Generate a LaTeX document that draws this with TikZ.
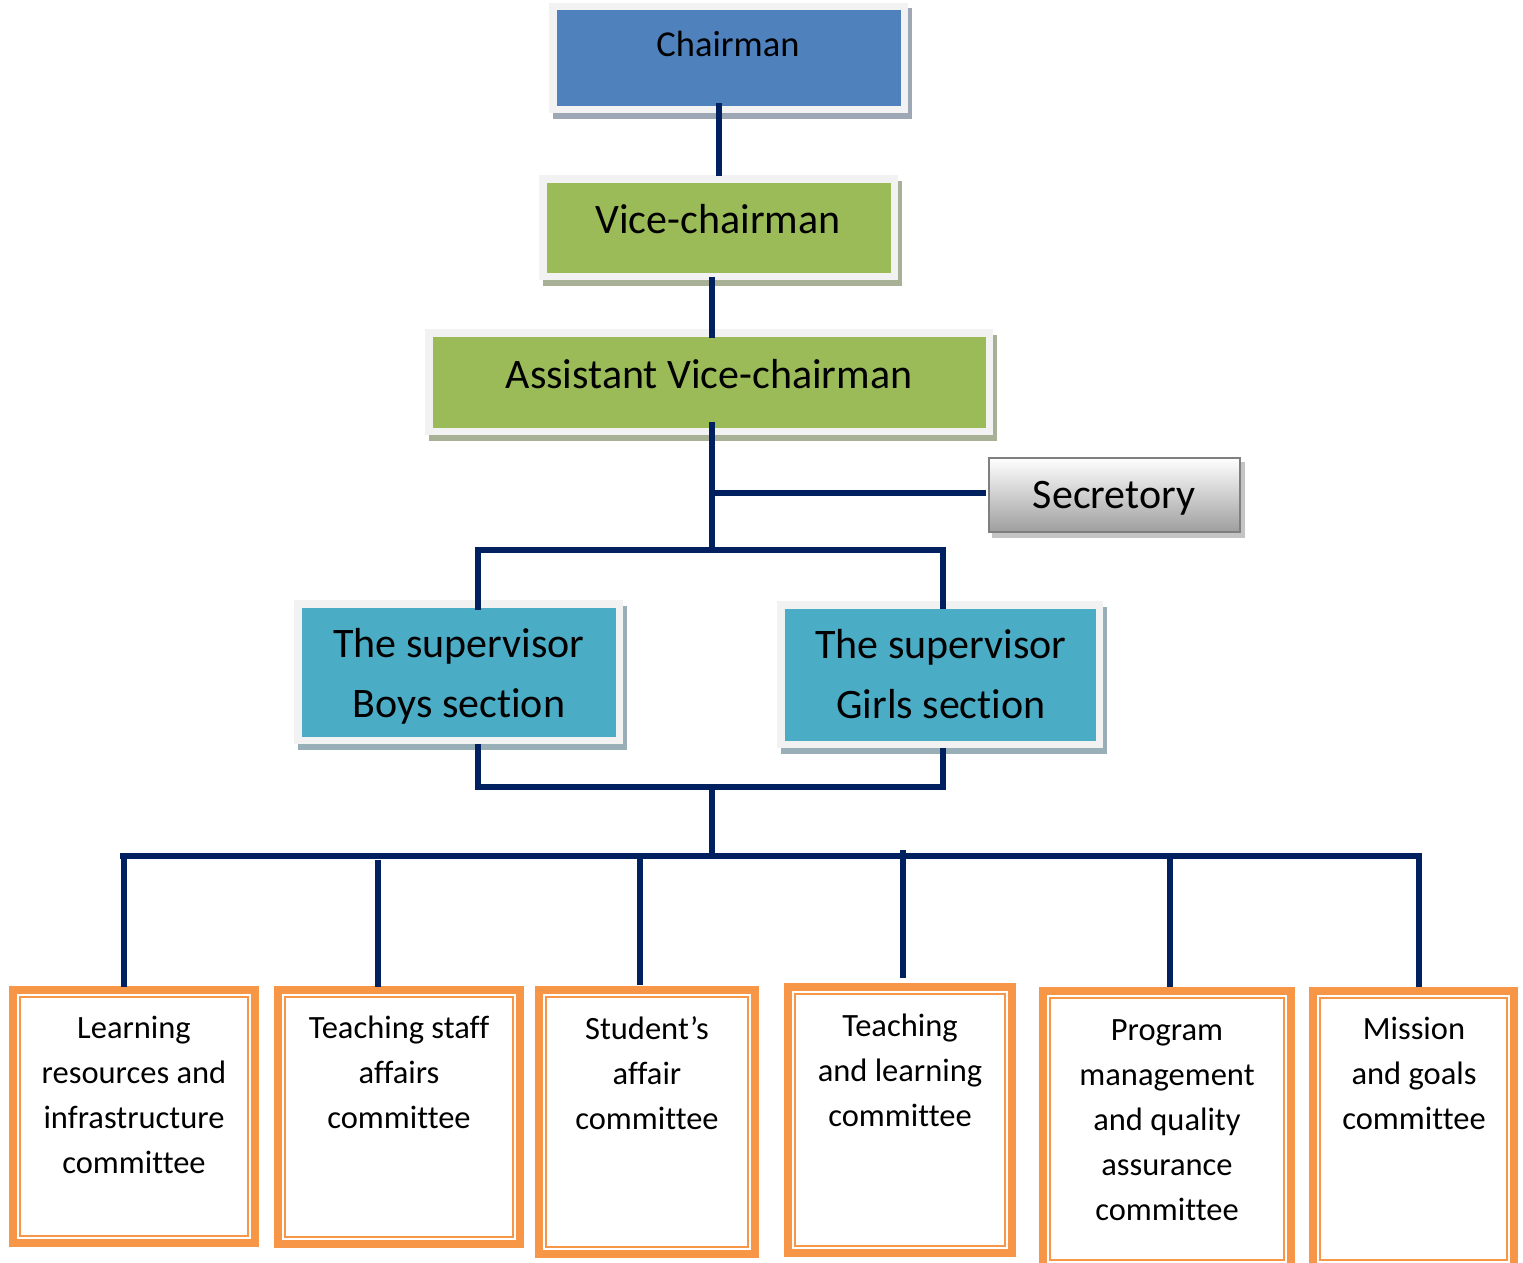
\documentclass[tikz,border=0pt]{standalone}
\usepackage{fontspec}
\setmainfont{Carlito}[Ligatures=NoCommon]
\usetikzlibrary{calc,backgrounds}
\definecolor{navy}{HTML}{002060}
\definecolor{chairblue}{HTML}{4F81BD}
\definecolor{grn}{HTML}{9BBB59}
\definecolor{tealc}{HTML}{4BACC6}
\definecolor{orgc}{HTML}{F79646}
\definecolor{framec}{HTML}{F2F2F2}
\definecolor{shblue}{HTML}{9DA7B6}
\definecolor{shgreen}{HTML}{A8B196}
\definecolor{shteal}{HTML}{98AFB7}
\definecolor{shgray}{HTML}{C4C4C4}
\definecolor{secborder}{HTML}{7F7F7F}
\newcommand\mkshadow[2]{\fill[#2] ($(#1.north west)+(-0.25,1.75)$) rectangle ($(#1.south east)+(7.25,9.25)$);}
\newcommand\orginner[1]{\draw[orgc, line width=2.5pt] ($(#1.north west)+(7,7)$) rectangle ($(#1.south east)+(-7,-7)$);}
\begin{document}
\begin{tikzpicture}[x=1pt,y=-1pt,
  conn/.style={draw=navy, line width=6pt},
  litebox/.style={draw=framec, line width=7.5pt, inner sep=0pt, outer sep=0pt},
  orgbox/.style={draw=orgc, line width=8pt, fill=white, inner sep=0pt, outer sep=0pt},
  secbox/.style={draw=secborder, line width=2.5pt, top color=white, bottom color=black!38, inner sep=0pt, outer sep=0pt},
  lbl/.style={anchor=base, inner sep=0pt, outer sep=0pt, align=center, text=black},
  bigtxt/.style={font=\fontsize{42}{60}\selectfont},
  chtxt/.style={font=\fontsize{36.5}{50}\selectfont},
  smalltxt/.style={font=\fontsize{32.5}{45}\selectfont}]
\useasboundingbox (0,0) rectangle (1523,1263);

% top boxes
\node[litebox, fill=chairblue, minimum width=351.5pt, minimum height=102.5pt] (ch) at (728.5,58) {};
\node[litebox, fill=grn, minimum width=351.5pt, minimum height=97.5pt] (vc) at (718.5,227.5) {};
\node[litebox, fill=grn, minimum width=560.5pt, minimum height=98.5pt] (av) at (709,382) {};
\node[secbox, minimum width=251pt, minimum height=74pt] (sec) at (1114.5,495) {};
\node[litebox, fill=tealc, minimum width=321.5pt, minimum height=136.5pt] (bo) at (458.5,672) {};
\node[litebox, fill=tealc, minimum width=318.5pt, minimum height=139.5pt] (gi) at (940,674.5) {};

% committee boxes
\node[orgbox, minimum width=242pt, minimum height=253pt] (b1) at (134,1116.5) {};
\node[orgbox, minimum width=242pt, minimum height=254pt] (b2) at (399,1117) {};
\node[orgbox, minimum width=216pt, minimum height=264pt] (b3) at (647,1122) {};
\node[orgbox, minimum width=224pt, minimum height=266pt] (b4) at (900,1120) {};
\node[orgbox, minimum width=248pt, minimum height=276pt] (b5) at (1167,1129) {};
\node[orgbox, minimum width=201pt, minimum height=276pt] (b6) at (1413.5,1129) {};
\orginner{b1}\orginner{b2}\orginner{b3}\orginner{b4}\orginner{b5}\orginner{b6}

\begin{pgfonlayer}{background}
  \fill[white] (0,0) rectangle (1523,1263);
  \mkshadow{ch}{shblue}
  \mkshadow{vc}{shgreen}
  \mkshadow{av}{shgreen}
  \mkshadow{bo}{shteal}
  \mkshadow{gi}{shteal}
  \fill[shgray] ($(sec.north west)+(2.75,3.75)$) rectangle ($(sec.south east)+(5.25,6.25)$);
\end{pgfonlayer}

% junction coordinates
\coordinate (sp) at (711.5,550);
\coordinate (jb) at (478,550);
\coordinate (jg) at (943,550);
\coordinate (lb) at (711.5,787);
\coordinate (bus) at (711.5,856);
\coordinate (busl) at (120,856);
\coordinate (busr) at (1422,856);
\coordinate (d1) at (124,856);
\coordinate (d2) at (378,856);
\coordinate (d3) at (640,856);
\coordinate (d4) at (903,856);
\coordinate (d5) at (1170,856);
\coordinate (d6) at (1419,856);

% connectors
\draw[conn] ($(vc.north |- ch.south)+(0.5,-6.25)$) -- ($(vc.north)+(0.5,-2.75)$);
\draw[conn] ($(sp |- vc.south)+(0,0.5)$) -- ($(sp |- av.north)+(0,5)$);
\draw[conn] ($(sp |- av.south)+(0,-9.5)$) -- (sp);
\draw[conn] ($(sp |- sec.west)+(0,-2)$) -- ($(sec.west)+(-3,-2)$);
\draw[conn] ($(jb |- bo.north)+(0,6)$) -- (jb) -- (jg) -- ($(jg |- gi.north)+(0,4)$);
\draw[conn] ($(jb |- bo.south)+(0,4)$) -- (jb |- lb) -- (jg |- lb) -- ($(jg |- gi.south)+(0,4)$);
\draw[conn] (lb) -- (bus);
\draw[conn] (busl) -- (busr);
\draw[conn] (d1) -- ($(d1 |- b1.north)+(0,-3)$);
\draw[conn] ($(d2)+(0,4)$) -- ($(d2 |- b2.north)+(0,-3)$);
\draw[conn] (d3) -- ($(d3 |- b3.north)+(0,-5)$);
\draw[conn] ($(d4)+(0,-6)$) -- ($(d4 |- b4.north)+(0,-9)$);
\draw[conn] (d5) -- ($(d5 |- b5.north)+(0,-4)$);
\draw[conn] (d6) -- ($(d6 |- b6.north)+(0,-4)$);

% labels (base anchor = baseline of the last line)
\node[lbl, chtxt] (cht) at (728,57) {Chairman};
\node[lbl, bigtxt] (vct) at (718,233) {Vice-chairman};
\node[lbl, bigtxt] (avt) at (709,388) {Assistant Vice-chairman};
\node[lbl, bigtxt] (sect) at (1114,508) {Secretory};
\node[lbl, bigtxt] (bot) at (459,717) {The supervisor\\Boys section};
\node[lbl, bigtxt] (git) at (941,718.5) {The supervisor\\Girls section};
\node[lbl, smalltxt] (t1) at (134,1173.5) {Learning\\resources and\\infrastructure\\committee};
\node[lbl, smalltxt] (t2) at (399,1128.5) {Teaching staff\\affairs\\committee};
\node[lbl, smalltxt] (t3) at (647,1129) {Student’s\\affair\\committee};
\node[lbl, smalltxt] (t4) at (900,1126.5) {Teaching\\and learning\\committee};
\node[lbl, smalltxt] (t5) at (1167,1220) {Program\\management\\and quality\\assurance\\committee};
\node[lbl, smalltxt] (t6) at (1414,1129.5) {Mission\\and goals\\committee};
\end{tikzpicture}
\end{document}
